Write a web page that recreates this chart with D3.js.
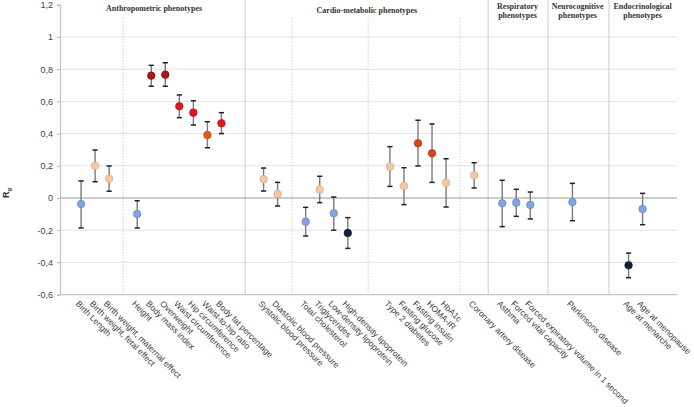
<!DOCTYPE html>
<html>
<head>
<meta charset="utf-8">
<script src="https://cdn.jsdelivr.net/npm/d3@7"></script>
<style>
  html, body { margin: 0; padding: 0; background: #fff; }
  svg { display: block; }
</style>
</head>
<body>
<svg id="chart" width="694" height="407"></svg>
<script>
// ---- data (slot-aligned; "" = empty slot) ----
const categories = [
  "Birth Length", "Birth weight, fetal effect", "Birth weight, maternal effect", "",
  "Height", "Body mass index", "Overweight", "Waist circumference", "Hip circumference",
  "Waist-to-hip ratio", "Body fat percentage", "", "",
  "Systolic blood pressure", "Diastolic blood pressure", "",
  "Total cholesterol", "Triglycerides", "Low-density lipoprotein", "High-density lipoprotein", "", "",
  "Type 2 diabetes", "Fasting glucose", "Fasting insulin", "HOMA-IR", "HbA1c", "",
  "Coronary artery disease", "",
  "Asthma", "Forced vital capacity", "Forced expiratory volume in 1 second", "", "",
  "Parkinsons disease", "", "", "",
  "Age at menarche", "Age at menopause"
];
const rg = [
  -0.037, 0.200, 0.120, null,
  -0.099, 0.760, 0.766, 0.570, 0.530, 0.391, 0.464, null, null,
  0.116, 0.025, null,
  -0.147, 0.052, -0.095, -0.217, null, null,
  0.195, 0.075, 0.340, 0.278, 0.095, null,
  0.141, null,
  -0.033, -0.029, -0.043, null, null,
  -0.025, null, null, null,
  -0.418, -0.068
];
const upper = [
  0.106, 0.298, 0.199, null,
  -0.017, 0.824, 0.840, 0.640, 0.604, 0.474, 0.530, null, null,
  0.186, 0.097, null,
  -0.058, 0.135, 0.006, -0.122, null, null,
  0.319, 0.188, 0.483, 0.460, 0.244, null,
  0.219, null,
  0.110, 0.054, 0.037, null, null,
  0.091, null, null, null,
  -0.342, 0.029
];
const lower = [
  -0.186, 0.101, 0.042, null,
  -0.186, 0.694, 0.694, 0.499, 0.453, 0.312, 0.400, null, null,
  0.043, -0.050, null,
  -0.236, -0.029, -0.200, -0.313, null, null,
  0.072, -0.041, 0.199, 0.097, -0.056, null,
  0.062, null,
  -0.178, -0.114, -0.130, null, null,
  -0.141, null, null, null,
  -0.495, -0.166
];
// colour class of each point
const colorClass = [
  "blue", "peach", "peach", null,
  "blue", "darkred", "darkred", "red", "red", "orange", "red", null, null,
  "peach", "peach", null,
  "blue", "peach", "blue", "navy", null, null,
  "peach", "peach", "orangered", "orangered", "peach", null,
  "peach", null,
  "blue", "blue", "blue", null, null,
  "blue", null, null, null,
  "navy", "blue"
];
const yTicks = [-0.6, -0.4, -0.2, 0, 0.2, 0.4, 0.6, 0.8, 1, 1.2];
const groups = [
  { lines: ["Anthropometric phenotypes"], center: 5.2 },
  { lines: ["Cardio-metabolic phenotypes"], center: 20.36 },
  { lines: ["Respiratory", "phenotypes"], center: 31.09 },
  { lines: ["Neurocognitive", "phenotypes"], center: 35.37 },
  { lines: ["Endocrinological", "phenotypes"], center: 40.0 }
];
const solidSeparators = [11.69, 29.0, 33.26, 37.6];
const dottedSeparators = [3.0, 15.02, 20.45, 27.0];

// ---- styles ----
const fills = {
  blue: "#7fa5dc", peach: "#f6c7a1", darkred: "#b3141c", red: "#e3151b",
  orange: "#e25d12", orangered: "#d8470f", navy: "#10203f"
};
const strokes = {
  blue: "#5b7fb4", peach: "#c9a283", darkred: "#7a0e13", red: "#a01015",
  orange: "#9c400c", orangered: "#98330b", navy: "#0a1428"
};

const svg = d3.select("#chart");
const x = d3.scaleLinear().domain([-1.5, 42.45]).range([60, 677]);
const y = d3.scaleLinear().domain([-0.6, 1.2]).range([294.6, 4.8]);

// gridlines
svg.append("g").selectAll("line")
  .data(yTicks.filter(t => t > -0.6 && t < 1.1 && t !== 0))
  .join("line")
  .attr("x1", x(-1.5)).attr("x2", x(42.45))
  .attr("y1", d => y(d)).attr("y2", d => y(d))
  .attr("stroke", "#e3e3e3").attr("stroke-width", 1);

// separators
svg.append("g").selectAll("line")
  .data(solidSeparators).join("line")
  .attr("x1", d => x(d)).attr("x2", d => x(d))
  .attr("y1", 0).attr("y2", y(-0.6))
  .attr("stroke", "#cfcfcf").attr("stroke-width", 1);
svg.append("g").selectAll("line")
  .data(dottedSeparators).join("line")
  .attr("x1", d => x(d)).attr("x2", d => x(d))
  .attr("y1", 18).attr("y2", y(-0.6))
  .attr("stroke", "#cfcfcf").attr("stroke-width", 1)
  .attr("stroke-dasharray", "1.5,1.5");

// zero line
svg.append("line")
  .attr("x1", x(-1.5)).attr("x2", x(42.45))
  .attr("y1", y(0)).attr("y2", y(0))
  .attr("stroke", "#9a9a9a").attr("stroke-width", 1);

// x axis baseline
svg.append("line")
  .attr("x1", x(-1.5)).attr("x2", x(42.45))
  .attr("y1", y(-0.6)).attr("y2", y(-0.6))
  .attr("stroke", "#c4c4c4").attr("stroke-width", 1.2);

// y axis
const yAxis = d3.axisLeft(y).tickValues(yTicks).tickSize(3).tickPadding(4)
  .tickFormat(d => d3.format("~g")(d).replace(".", ",").replace("−", "-"));
const gy = svg.append("g").attr("transform", `translate(${x(-1.5)},0)`).call(yAxis);
gy.select(".domain").attr("stroke", "#c4c4c4").attr("stroke-width", 1.2);
gy.selectAll(".tick line").attr("stroke", "#b0b0b0");
gy.selectAll(".tick text").attr("fill", "#444")
  .style("font-family", "'Liberation Sans', Arial, sans-serif").style("font-size", "9px");

// y label R_g
const yl = svg.append("text")
  .attr("transform", `translate(8.5,198) rotate(-90)`)
  .attr("fill", "#333")
  .style("font-family", "'Liberation Sans', Arial, sans-serif")
  .style("font-weight", "bold").style("font-size", "9px");
yl.append("tspan").text("R");
yl.append("tspan").attr("dy", "2.5").style("font-size", "6px").text("g");

// group headers
groups.forEach(g => {
  const t = svg.append("text")
    .attr("x", x(g.center))
    .attr("text-anchor", "middle")
    .attr("fill", "#333")
    .style("font-family", "'Liberation Serif', 'Times New Roman', serif")
    .style("font-weight", "bold").style("font-size", "8px");
  if (g.lines.length === 1) {
    t.attr("y", g.center < 10 ? 10.5 : 12.5).text(g.lines[0]);
  } else {
    g.lines.forEach((l, i) => t.append("tspan").attr("x", x(g.center)).attr("y", 8.8 + i * 8.8).text(l));
  }
});

// x labels
const idx = d3.range(categories.length).filter(i => categories[i] !== "");
svg.append("g").selectAll("text")
  .data(idx).join("text")
  .attr("transform", i => `translate(${x(i) - 1.5},300) rotate(45)`)
  .attr("dy", "0.72em")
  .attr("fill", "#3a3a3a")
  .style("font-family", "'Liberation Sans', Arial, sans-serif")
  .style("font-size", "8.5px")
  .text(i => categories[i]);

// error bars
const pts = idx.filter(i => rg[i] !== null);
const eb = svg.append("g");
eb.selectAll("line.v").data(pts).join("line").attr("class", "v")
  .attr("x1", i => x(i)).attr("x2", i => x(i))
  .attr("y1", i => y(upper[i])).attr("y2", i => y(lower[i]))
  .attr("stroke", "#7a7a7a").attr("stroke-width", 1.4);
["u", "l"].forEach(k => {
  eb.selectAll("line.c" + k).data(pts).join("line").attr("class", "c" + k)
    .attr("x1", i => x(i) - 2.6).attr("x2", i => x(i) + 2.6)
    .attr("y1", i => y(k === "u" ? upper[i] : lower[i]))
    .attr("y2", i => y(k === "u" ? upper[i] : lower[i]))
    .attr("stroke", "#222").attr("stroke-width", 1.5);
});

// points
svg.append("g").selectAll("circle").data(pts).join("circle")
  .attr("cx", i => x(i)).attr("cy", i => y(rg[i]))
  .attr("r", 3.8)
  .attr("fill", i => fills[colorClass[i]])
  .attr("stroke", i => strokes[colorClass[i]])
  .attr("stroke-width", 0.6);
</script>
</body>
</html>
